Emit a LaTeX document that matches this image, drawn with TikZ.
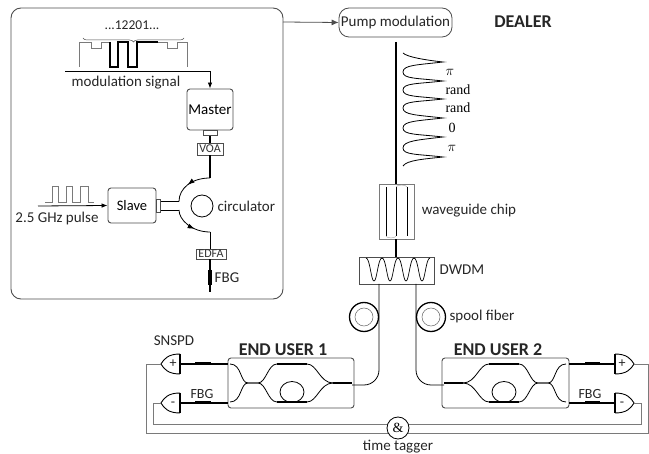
\documentclass[tikz,border=0pt]{standalone}
\usepackage{fontspec}
\setmainfont{Carlito}
\newfontfamily\phasefont{Liberation Serif}
\usetikzlibrary{arrows.meta, decorations.markings, decorations.pathreplacing, positioning}
\definecolor{boxgray}{HTML}{4D4D4D}
\definecolor{wiregray}{HTML}{7A7A7A}
\tikzset{
    textlabel/.style={inner sep=0pt, font=\fontsize{15}{17}\selectfont, text=black!85},
    smalllabel/.style={textlabel, font=\fontsize{14}{16}\selectfont},
    bigbold/.style={inner sep=0pt, font=\fontsize{18}{20}\selectfont\bfseries, text=black!85},
    phase/.style={inner sep=0pt, font=\phasefont\fontsize{14}{16}\selectfont},
    devbox/.style={draw=boxgray, line width=0.9pt, rounded corners=3pt, inner sep=0pt, fill=white},
    tagbox/.style={draw=boxgray, line width=0.7pt, fill=white, inner sep=0.6pt, font=\fontsize{12}{14}\selectfont, text=black!80},
    fiber/.style={draw=black, line width=0.8pt},
    thickfiber/.style={draw=black, line width=1.5pt},
    gwire/.style={draw=wiregray, line width=0.9pt},
    arrowhead/.style={-{Latex[length=6pt,width=4.5pt]}},
    midarrow/.style={postaction={decorate, decoration={markings, mark=at position #1 with {\arrow{Latex[length=7pt,width=5pt]}}}}},
    pics/detector/.style={code={
        \draw[draw=black, line width=0.9pt, fill=white] (19,-10) .. controls (7,-10) and (3,-5) .. (0,0) .. controls (3,5) and (7,10) .. (19,10);
        \draw[draw=black, line width=1.3pt] (19,-10) -- (19,10);
    }},
    pics/interferometer/.style={code={
        \draw[fiber] (2,-20) .. controls (14,-20) and (12,-1) .. (20,-1) -- (30,-1) .. controls (38,-1) and (40,-20) .. (49,-20);
        \draw[fiber] (2,18) .. controls (14,18) and (12,-1) .. (20,-1) -- (30,-1) .. controls (38,-1) and (40,18) .. (49,18);
        \draw[thickfiber, line width=1.1pt] (49,-20) -- (79,-20);
        \draw[thickfiber, line width=1.1pt] (49,18) -- (79,18);
        \draw[fiber] (79,-20) .. controls (89,-20) and (92,-1) .. (105,-1);
        \draw[fiber] (79,18) .. controls (89,18) and (92,-1) .. (105,-1);
        \draw[thickfiber] (105,-1) -- (124,-1);
        \draw[fiber] (64,8) ellipse (12 and 10.5);
    }},
    pics/notch/.style={code={
        \draw[fiber, line width=0.7pt] (-8,-23) .. controls (-4,-23) and (-3,0) .. (0,0) .. controls (3,0) and (4,-23) .. (8,-23);
    }},
}

\begin{document}
\begin{tikzpicture}[x=1pt, y=-1pt]
    \useasboundingbox (0,0) rectangle (649,454);

    % laser board
    \draw[draw=boxgray, line width=0.9pt, rounded corners=10pt] (11,8) rectangle (283,299);
    \node[textlabel, font=\fontsize{13.5}{15}\selectfont] (sequence) at (132,25) {...12201...};
    \node[textlabel] (modsignal) at (126,83) {modulation signal};
    \node[devbox, minimum width=46pt, minimum height=41pt] (master) at (210,109.5) {\fontsize{15}{17}\selectfont Master};
    \node[devbox, rounded corners=0pt, minimum width=14pt, minimum height=5pt, below=0pt of master] (masterport) {};
    \node[tagbox, minimum width=26pt, minimum height=12pt] (voa) at (210,149) {VOA};
    \node[devbox, minimum width=48pt, minimum height=35pt] (slave) at (132,205.5) {\fontsize{14.5}{17}\selectfont Slave};
    \node[devbox, rounded corners=0pt, minimum width=4pt, minimum height=13pt, right=0pt of slave] (slaveport) {};
    \node[textlabel] (pulselabel) at (57,219) {2.5 GHz pulse};
    \node[draw=black, line width=0.8pt, circle, minimum size=22pt, inner sep=0pt] (circ) at (202,206) {};
    \node[textlabel, right=4pt of circ] (circlabel) {circulator};
    \node[tagbox, minimum width=30pt, minimum height=10pt] (edfa) at (211,254) {EDFA};
    \node[textlabel] (fbgmain) at (227,278) {FBG};
    \coordinate (wavestart) at (65,71);
    \coordinate (pulsestart) at (38,206);
    \coordinate (upperport) at (179,201.5);
    \coordinate (lowerport) at (179,210);
    \coordinate (voaend) at (210,178);
    \coordinate (edfaend) at (210,232);
    \coordinate (fbgend) at (210,292);

    \draw[gwire, line width=0.8pt] (79,67) -- (79,42) -- (91,42) -- (91,48) -- (101,48) -- (101,42) -- (110,42);
    \draw[thickfiber, line width=1.1pt] (110,42) -- (110,67) -- (118,67) -- (118,42) -- (128,42) -- (128,67) -- (137,67) -- (137,42) -- (158,42);
    \draw[gwire, line width=0.8pt] (158,42) -- (167,42) -- (167,48) -- (177,48) -- (177,42) -- (187,42) -- (187,67);
    \draw[draw=boxgray, line width=0.5pt, decorate, decoration={brace, mirror, amplitude=4pt}] (83,38) -- (184,38);
    \draw[fiber, arrowhead] (wavestart) -| (master.north);
    \draw[thickfiber] (masterport.south) -- (voa.north);
    \draw[gwire, line width=0.8pt] (45,202) -- (52,202) -- (52,186) -- (58,186) -- (58,202) -- (66,202) -- (66,186) -- (72,186) -- (72,202) -- (80,202) -- (80,186) -- (88,186) -- (88,202) -- (94,202);
    \draw[fiber, arrowhead] (pulsestart) -- (slave.west);
    \draw[thickfiber, line width=1.1pt] (voa.south) -- (voaend);
    \draw[fiber, midarrow=0.55] (voaend) .. controls (192,178) and (179,188) .. (upperport);
    \draw[fiber, midarrow=0.62] (lowerport) .. controls (179,220) and (192,232) .. (edfaend);
    \draw[fiber] (slaveport.east |- upperport) -- (upperport);
    \draw[fiber] (slaveport.east |- lowerport) -- (lowerport);
    \draw[fiber] (edfaend) -- (edfa.north -| edfaend);
    \draw[thickfiber, line width=1.1pt] (edfa.south -| edfaend) -- (fbgend);
    \draw[draw=black, line width=3.5pt] (210,270) -- (210,285);

    % dealer
    \node[textlabel, draw=boxgray, line width=0.8pt, rounded corners=10pt, minimum width=113pt, minimum height=29pt] (pump) at (395.5,22.5) {Pump modulation};
    \node[bigbold] (dealer) at (523,22) {DEALER};
    \coordinate (pumpfeed) at (283,22);
    \coordinate (pumpend) at (396,42);
    \node[devbox, rounded corners=0pt, draw=wiregray, minimum width=35pt, minimum height=55pt] (chip) at (396.5,211.5) {};
    \node[textlabel] (chiplabel) at (469,211) {waveguide chip};
    \node[devbox, rounded corners=0pt, minimum width=75pt, minimum height=27pt] (dwdm) at (396.5,270.5) {};
    \node[textlabel] (dwdmlabel) at (462,270) {DWDM};
    \node[textlabel] (spoollabel) at (482,317) {spool fiber};
    \node[phase] (phasea) at (450,72) {$\pi$};
    \node[phase] (phaseb) at (458,90) {rand};
    \node[phase] (phasec) at (458,108) {rand};
    \node[phase] (phased) at (452,128) {0};
    \node[phase] (phasee) at (452,148) {$\pi$};

    \draw[draw=boxgray, line width=0.8pt, -{Latex[length=7pt,width=6pt]}] (pumpfeed) -- (pump.west);
    \draw[thickfiber, line width=1.2pt] (pumpend) -- (chip.north -| pumpend);
    \draw[thickfiber, line width=1.2pt] (chip.south -| pumpend) -- (dwdm.north -| pumpend);
    \draw[fiber] (403,53) .. controls (407,57) and (425,60) .. (443,62)
        .. controls +(-26,3) and +(0,-7) .. (403,72) .. controls +(0,7) and +(-26,-3) .. (443,81)
        .. controls +(-26,3) and +(0,-7) .. (403,90) .. controls +(0,7) and +(-26,-3) .. (443,99)
        .. controls +(-26,3) and +(0,-7) .. (403,108) .. controls +(0,7) and +(-26,-3) .. (443,118)
        .. controls +(-26,3) and +(0,-7) .. (403,128) .. controls +(0,7) and +(-26,-3) .. (443,137)
        .. controls +(-26,3) and +(0,-7) .. (403,148) .. controls +(0,7) and +(-26,-3) .. (443,157)
        .. controls (425,159) and (407,160) .. (403,166);
    \draw[fiber, line width=0.7pt] (386,187) -- (386,236);
    \draw[fiber, line width=0.7pt] (396,187) -- (396,236);
    \draw[fiber, line width=0.7pt] (407,187) -- (407,236);
    \draw[draw=black!30, line width=0.5pt] (396,187) .. controls (396,184.5) and (407,184.5) .. (407,187);
    \draw[draw=black!30, line width=0.5pt] (386,236) .. controls (386,238.5) and (396,238.5) .. (396,236);
    \pic at (374,281) {notch};
    \pic at (390,281) {notch};
    \pic at (406,281) {notch};
    \pic at (422,281) {notch};

    % end users
    \node[devbox, minimum width=126pt, minimum height=50pt] (userone) at (291,383) {};
    \node[devbox, minimum width=127pt, minimum height=50pt] (usertwo) at (505.5,383) {};
    \node[bigbold] (useronelabel) at (283,350) {END USER 1};
    \node[bigbold] (usertwolabel) at (498,350) {END USER 2};
    \pic at (228,384) {interferometer};
    \pic[xscale=-1] at (568,384) {interferometer};
    \node[draw=black, line width=1.3pt, circle, minimum size=29pt, inner sep=0pt] (spoolone) at (364,317) {};
    \node[draw=black!60, line width=0.5pt, circle, minimum size=18pt, inner sep=0pt] (spoolonein) at (364,317) {};
    \node[draw=black, line width=1.3pt, circle, minimum size=29pt, inner sep=0pt] (spooltwo) at (431,317) {};
    \node[draw=black!60, line width=0.5pt, circle, minimum size=18pt, inner sep=0pt] (spooltwoin) at (431,317) {};
    \coordinate (dwdmleft) at (379,284);
    \coordinate (dwdmright) at (416,284);
    \coordinate (inone) at (352,385);
    \coordinate (intwo) at (444,385);
    \draw[fiber, rounded corners=15pt] (dwdmleft) |- (inone);
    \draw[fiber, rounded corners=15pt] (dwdmright) |- (intwo);

    % detectors
    \coordinate (plusone) at (161,364);
    \coordinate (minusone) at (161,403);
    \coordinate (plustwo) at (634,364);
    \coordinate (minustwo) at (634,403);
    \pic at (plusone) {detector};
    \pic at (minusone) {detector};
    \pic[xscale=-1] at (plustwo) {detector};
    \pic[xscale=-1] at (minustwo) {detector};
    \node[smalllabel] (plusonelabel) at (173,364) {+};
    \node[smalllabel] (minusonelabel) at (173,404) {-};
    \node[smalllabel] (plustwolabel) at (622,364) {+};
    \node[smalllabel] (minustwolabel) at (622,404) {-};
    \node[textlabel] (snspd) at (174,341) {SNSPD};
    \node[smalllabel] (fbgone) at (202,394) {FBG};
    \node[smalllabel] (fbgtwo) at (590,394) {FBG};
    \draw[thickfiber, line width=1.1pt] (180,364) -- (userone.west |- plusone);
    \draw[thickfiber, line width=1.1pt] (180,403) -- (userone.west |- minusone);
    \draw[thickfiber, line width=1.1pt] (615,364) -- (usertwo.east |- plustwo);
    \draw[thickfiber, line width=1.1pt] (615,403) -- (usertwo.east |- minustwo);
    \draw[draw=black, line width=3pt] (195,364) -- (211,364);
    \draw[draw=black, line width=3pt] (195,403) -- (211,403);
    \draw[draw=black, line width=3pt] (585,364) -- (600,364);
    \draw[draw=black, line width=3pt] (585,403) -- (600,403);

    % coincidence
    \coordinate (outerleft) at (146,433);
    \coordinate (outerright) at (648,433);
    \coordinate (innerleft) at (153,424);
    \coordinate (innerright) at (641,424);
    \draw[gwire] (plusone) -| (outerleft) -- (outerright) |- (plustwo);
    \draw[gwire] (minusone) -| (innerleft) -- (innerright) |- (minustwo);
    \node[draw=black, line width=0.8pt, fill=white, circle, minimum size=22pt, inner sep=0pt, phase] (tagger) at (398,428) {\&};
    \node[textlabel] (taggerlabel) at (398,447) {time tagger};
\end{tikzpicture}
\end{document}
